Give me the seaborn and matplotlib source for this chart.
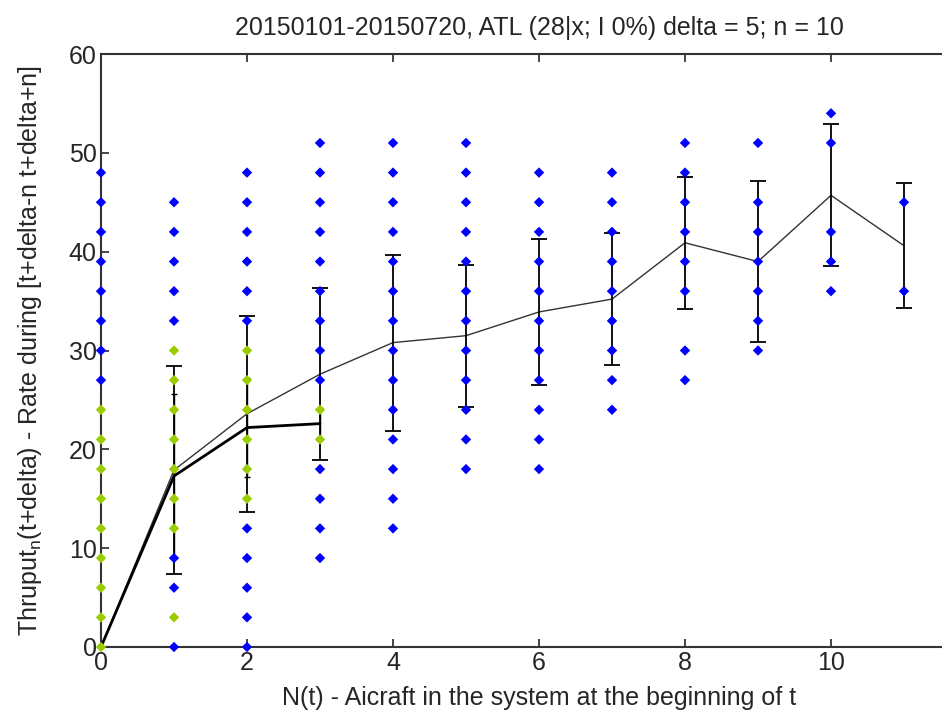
import pandas as pd
import seaborn as sns
import matplotlib.pyplot as plt

# dots: N(t) columns and observed throughput values
blue_x = [0] * 8 + [1] * 8 + [2] * 11 + [3] * 13 + [4] * 14 + [5] * 12 + [6] * 11 + [7] * 9 + [8] * 8 + [9] * 7 + [10] * 5 + [11] * 2
blue_y = [27, 30, 33, 36, 39, 42, 45, 48,
          0, 6, 9, 33, 36, 39, 42, 45,
          0, 3, 6, 9, 12, 33, 36, 39, 42, 45, 48,
          9, 12, 15, 18, 27, 30, 33, 36, 39, 42, 45, 48, 51,
          12, 15, 18, 21, 24, 27, 30, 33, 36, 39, 42, 45, 48, 51,
          18, 21, 24, 27, 30, 33, 36, 39, 42, 45, 48, 51,
          18, 21, 24, 27, 30, 33, 36, 39, 42, 45, 48,
          24, 27, 30, 33, 36, 39, 42, 45, 48,
          27, 30, 36, 39, 42, 45, 48, 51,
          30, 33, 36, 39, 42, 45, 51,
          36, 39, 42, 51, 54,
          36, 45]

yellow_x = [0] * 9 + [1] * 8 + [2] * 6 + [3] * 2
yellow_y = [0, 3, 6, 9, 12, 15, 18, 21, 24,
            3, 12, 15, 18, 21, 24, 27, 30,
            15, 18, 21, 24, 27, 30,
            21, 24]

# mean line with error bars
n_vals = [0, 1, 2, 3, 4, 5, 6, 7, 8, 9, 10, 11]
mean_vals = [0, 17.9, 23.6, 27.6, 30.8, 31.5, 33.9, 35.2, 40.9, 39.0, 45.7, 40.6]
err_vals = [0, 10.5, 9.9, 8.7, 8.9, 7.2, 7.4, 6.7, 6.7, 8.1, 7.2, 6.3]

# second (short) series
n2_vals = [0, 1, 2, 3]
mean2_vals = [0, 17.3, 22.2, 22.6]
err2_vals = [0, 8.3, 5.0, 1.6]

blue_df = pd.DataFrame({"n": blue_x, "thr": blue_y})
yellow_df = pd.DataFrame({"n": yellow_x, "thr": yellow_y})
line_df = pd.DataFrame({"n": n_vals, "thr": mean_vals})
line2_df = pd.DataFrame({"n": n2_vals, "thr": mean2_vals})

sns.set_style("ticks")
plt.rcParams["font.family"] = ["Liberation Sans", "DejaVu Sans"]
plt.rcParams["mathtext.default"] = "regular"

fig = plt.figure(figsize=(9.42, 7.19), dpi=100)
ax = fig.add_axes([101 / 942, 72 / 719, 876 / 942, 593 / 719])

# lines + error bars (under the dots)
sns.lineplot(data=line_df, x="n", y="thr", color="#333333", linewidth=1.0, ax=ax, zorder=2)
ax.errorbar(n_vals, mean_vals, yerr=err_vals, fmt="none", ecolor="black",
            elinewidth=1.3, capsize=5.5, capthick=1.3, zorder=2)
sns.lineplot(data=line2_df, x="n", y="thr", color="black", linewidth=2.0, ax=ax, zorder=3)
ax.errorbar(n2_vals, mean2_vals, yerr=err2_vals, fmt="none", ecolor="black",
            elinewidth=1.0, capsize=2, capthick=1.0, zorder=3)

# dots sit on top of the axes lines too (not clipped at x=0 / y=0)
sns.scatterplot(data=blue_df, x="n", y="thr", color="#0000ff", marker="D", s=28,
                edgecolor="none", ax=ax, zorder=4, clip_on=False)
sns.scatterplot(data=yellow_df, x="n", y="thr", color="#9acd00", marker="D", s=28,
                edgecolor="none", ax=ax, zorder=5, clip_on=False)

ax.set_xlim(0, 12)
ax.set_ylim(0, 60)
ax.set_xticks([0, 2, 4, 6, 8, 10])
ax.set_yticks([0, 10, 20, 30, 40, 50, 60])
ax.tick_params(direction="in", top=True, right=True, length=6, width=1.2,
               labelsize=18, colors="#262626", pad=3)
for side in ["left", "right", "top", "bottom"]:
    ax.spines[side].set_visible(True)
    ax.spines[side].set_linewidth(1.5)
    ax.spines[side].set_color("#333333")

ax.set_title("20150101-20150720, ATL (28|x; I 0%) delta = 5; n = 10", fontsize=18, pad=14,
             color="#262626")
ax.set_xlabel("N(t) - Aicraft in the system at the beginning of t", fontsize=18,
              color="#262626", labelpad=8)
ax.set_ylabel("Thruput$_{n}$(t+delta) - Rate during [t+delta-n t+delta+n]", fontsize=18,
              color="#262626", labelpad=18)

fig.savefig("out.png", dpi=100, facecolor="white")
